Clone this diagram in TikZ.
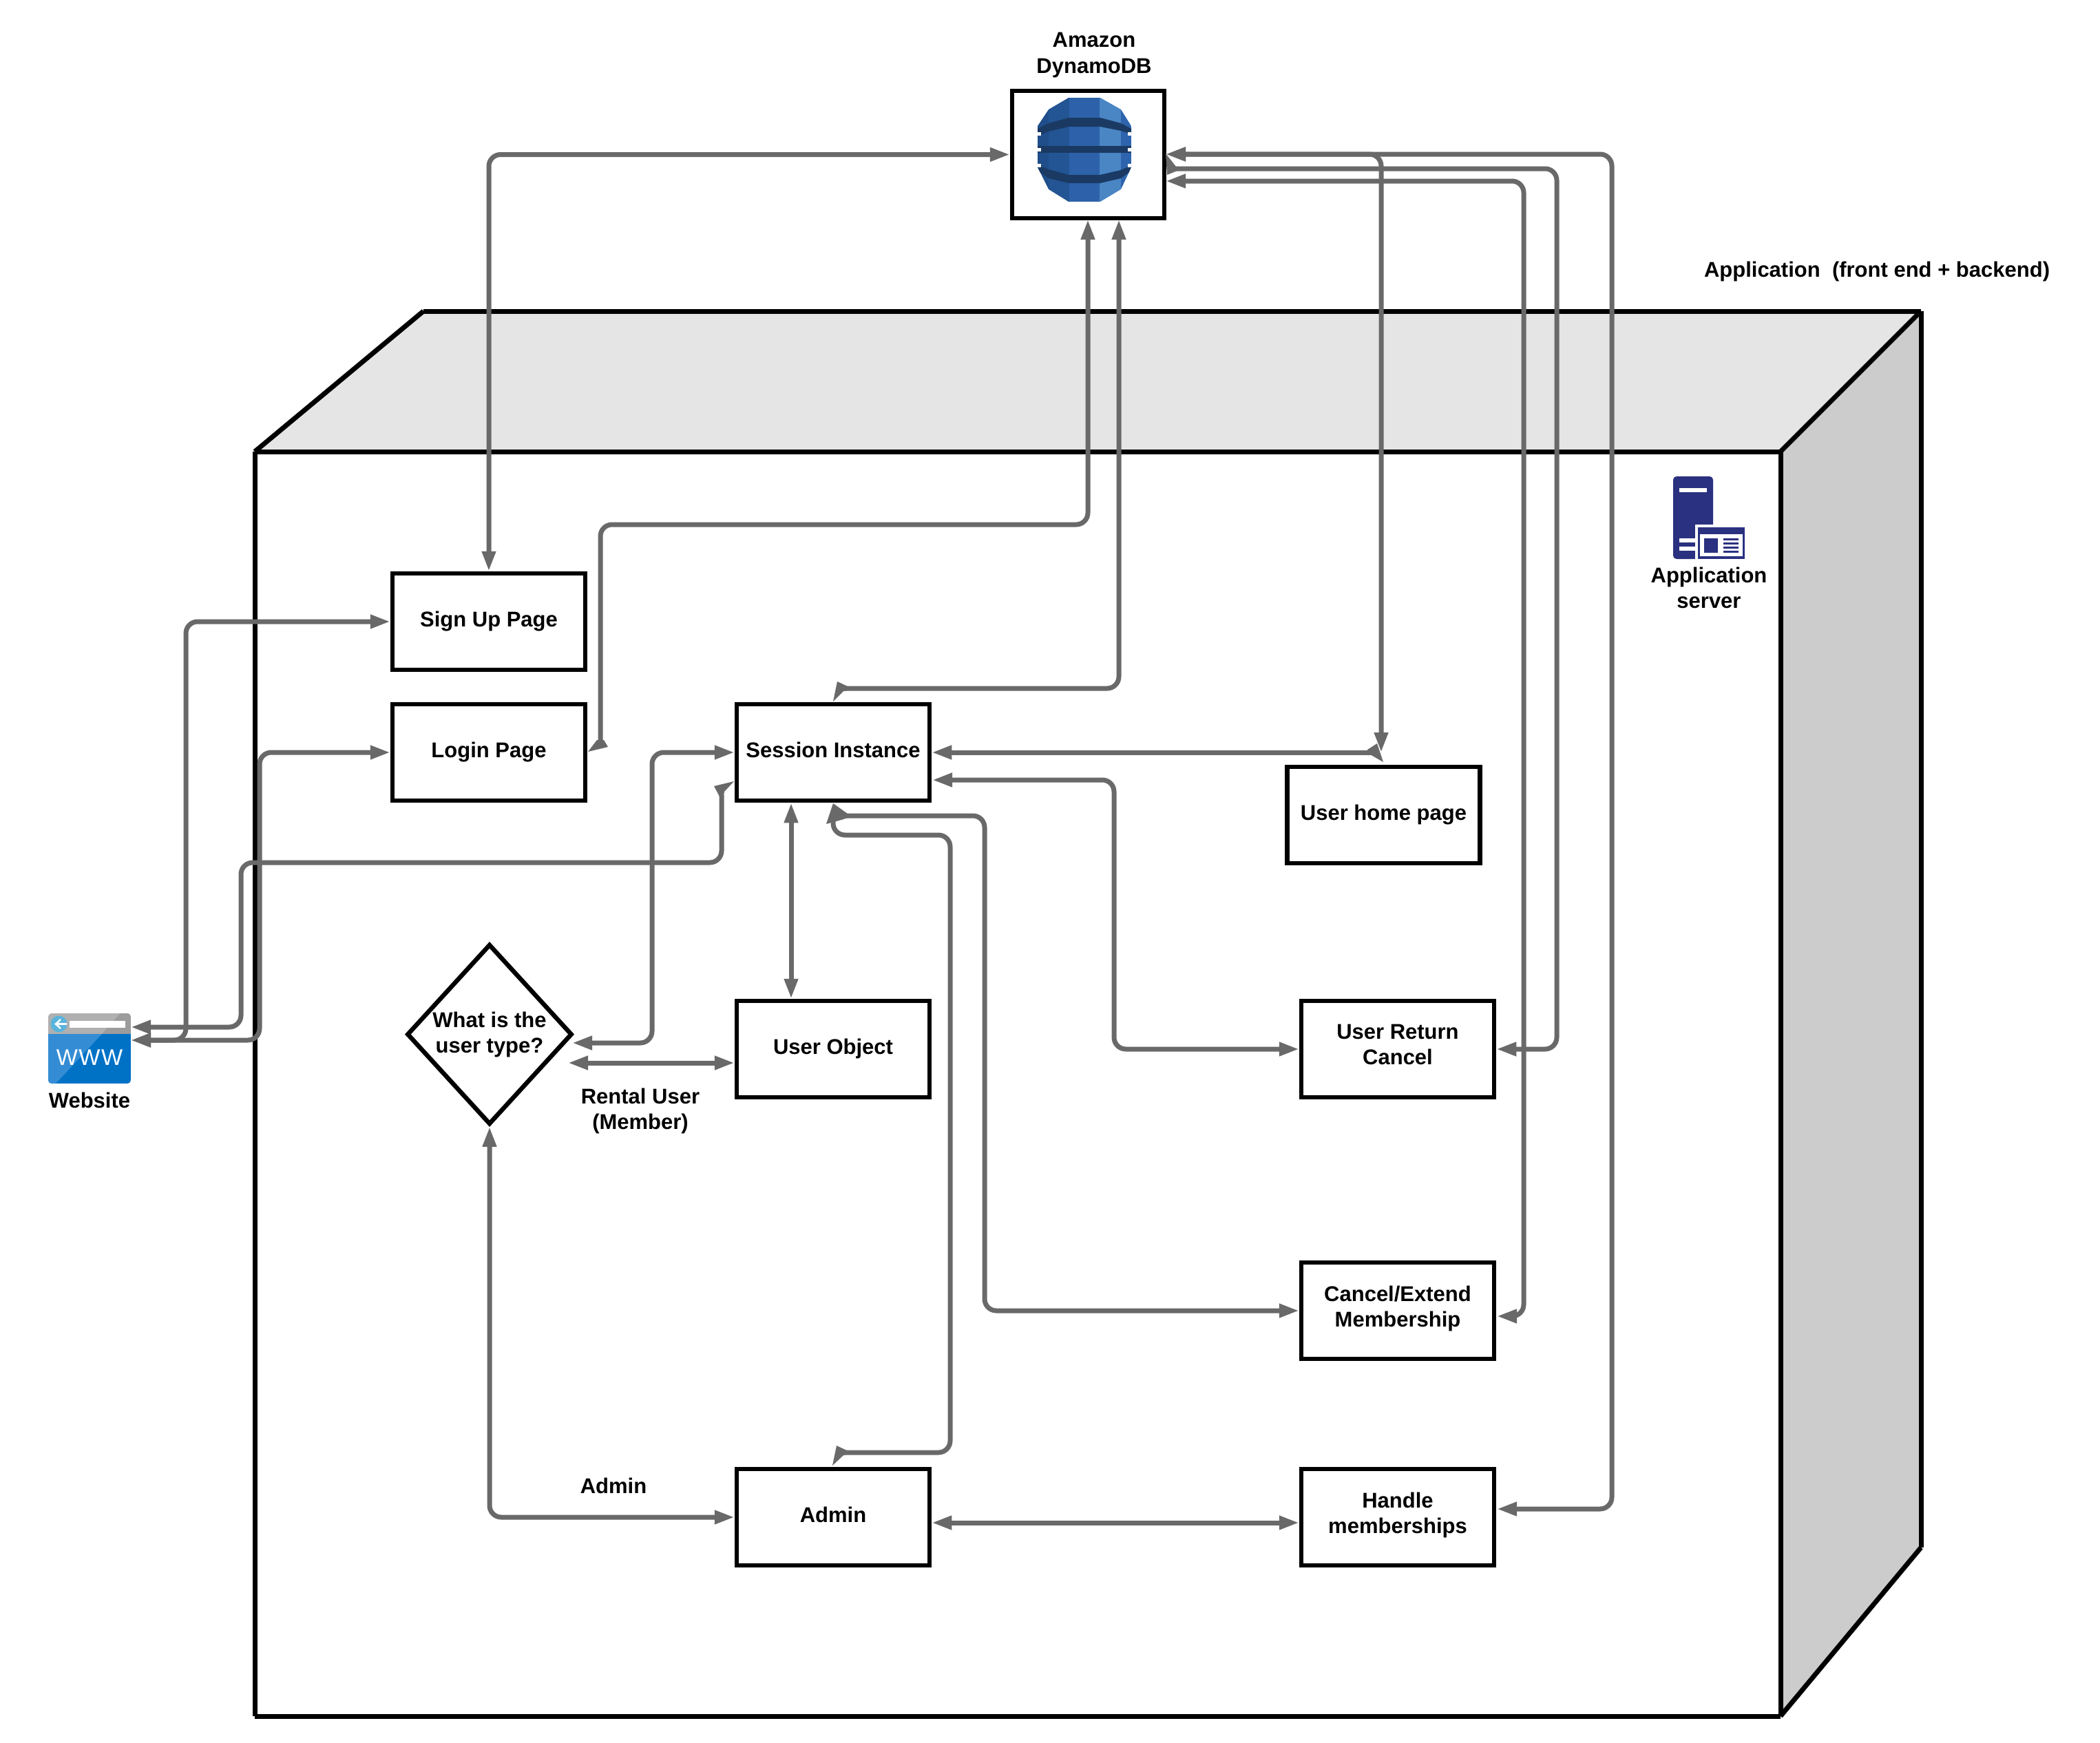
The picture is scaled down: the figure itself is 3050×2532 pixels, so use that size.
\documentclass[tikz,border=0pt]{standalone}
\usepackage{fontspec}
\setmainfont{Liberation Sans}
\usetikzlibrary{arrows.meta,shapes.geometric,calc}
\definecolor{conncol}{HTML}{696969}
\definecolor{srvblue}{HTML}{2A3180}
\tikzset{
  proc/.style={draw=black,line width=6.5pt,fill=white,minimum width=280pt,minimum height=140pt,inner sep=0pt,align=center,text depth=7pt,font=\fontsize{31}{37}\selectfont\bfseries},
  proctwo/.style={proc,text depth=13pt},
  decis/.style={draw=black,line width=6.5pt,fill=white,diamond,minimum width=240pt,minimum height=262pt,inner sep=0pt},
  lbl/.style={inner sep=0pt,align=center,font=\fontsize{31}{37.5}\selectfont\bfseries},
  nodetxt/.style={inner sep=0pt,align=center,font=\fontsize{31}{37}\selectfont\bfseries},
  conn/.style={draw=conncol,line width=7pt,rounded corners=17pt,>={Triangle[length=29pt,width=19pt]}},
  tipfill/.style={fill=conncol,draw=none},
  boxedge/.style={line width=7pt,draw=black,line cap=square}
}
\begin{document}
\begin{tikzpicture}[x=1pt,y=-1pt]
\useasboundingbox[fill=white] (0,0) rectangle (3050,2532);
% server cuboid
\fill[fill=white] (370,656) rectangle (2586,2493);
\fill[fill=black!10] (370,656) -- (615,452) -- (2790,452) -- (2586,656) -- cycle;
\fill[fill=black!20] (2586,656) -- (2790,452) -- (2790,2248) -- (2586,2493) -- cycle;
\draw[boxedge] (370,656) -- (615,452);
\draw[boxedge] (615,452) -- (2790,452);
\draw[boxedge] (2790,452) -- (2586,656);
\draw[boxedge] (370,656) -- (2586,656);
\draw[boxedge] (2790,452) -- (2790,2248);
\draw[boxedge] (2790,2248) -- (2586,2493);
\draw[boxedge] (2586,656) -- (2586,2493);
\draw[boxedge] (370,656) -- (370,2493);
\draw[boxedge] (370,2493) -- (2586,2493);
% nodes
\node[proc,minimum width=221pt,minimum height=185pt] (dynamo) at (1580.5,224.5) {};
\node[proc] (signup) at (710,903) {Sign Up Page};
\node[proc] (login) at (710,1093) {Login Page};
\node[proc] (session) at (1210,1093) {Session Instance};
\node[proc] (userhome) at (2009.5,1184) {User home page};
\node[proc] (userobj) at (1210,1524) {User Object};
\node[proctwo] (uret) at (2030,1524) {User Return\\Cancel};
\node[proctwo] (cancel) at (2030,1904) {Cancel/Extend\\Membership};
\node[proctwo] (handle) at (2030,2204) {Handle\\memberships};
\node[proc] (admin) at (1210,2204) {Admin};
\node[decis] (dtype) at (711,1502.5) {};
\node[nodetxt] (dtypetxt) at (711,1503) {What is the\\user type?};
% labels
\node[lbl] (lbldb) at (1589,80) {Amazon\\DynamoDB};
\node[lbl] (lblapp) at (2726,394) {Application\ \ (front end + backend)};
\node[lbl] (lblsrv) at (2482,854) {Application\\server};
\node[lbl] (lblrent) at (930,1614) {Rental User\\(Member)};
\node[lbl] (lbladm) at (891,2158) {Admin};
\node[lbl] (lblweb) at (130,1598) {Website};
% DynamoDB icon
\begin{scope}
\clip (1552,142) -- (1598,142) -- (1628,159) -- (1643,183) -- (1643,243) -- (1628,275) -- (1598,293) -- (1552,293) -- (1523,275) -- (1507,243) -- (1507,183) -- (1523,159) -- cycle;
\fill[fill={rgb,255:red,31;green,78;blue,138}] (1507,142) rectangle (1523,293);
\fill[fill={rgb,255:red,35;green,85;blue,148}] (1523,142) rectangle (1553,293);
\fill[fill={rgb,255:red,45;green,98;blue,170}] (1553,142) rectangle (1597,293);
\fill[fill={rgb,255:red,74;green,133;blue,196}] (1597,142) rectangle (1628,293);
\fill[fill={rgb,255:red,46;green,100;blue,173}] (1628,142) rectangle (1643,293);
\fill[fill={rgb,255:red,26;green,58;blue,100}] (1507,187) -- (1523,179) -- (1552,171) -- (1598,171) -- (1628,179) -- (1643,187) -- (1643,195) -- (1628,190) -- (1598,184) -- (1552,184) -- (1523,191) -- (1507,197) -- cycle;
\fill[fill={rgb,255:red,26;green,58;blue,100}] (1507,212) rectangle (1643,222);
\fill[fill={rgb,255:red,26;green,58;blue,100}] (1507,240) -- (1523,246) -- (1552,254) -- (1598,254) -- (1628,247) -- (1643,240) -- (1643,248) -- (1628,259) -- (1598,266) -- (1552,266) -- (1523,259) -- (1507,248) -- cycle;
\fill[fill=white] (1507,192) rectangle (1512,197);
\fill[fill=white] (1638,192) rectangle (1643,197);
\fill[fill=white] (1507,215) rectangle (1512,220);
\fill[fill=white] (1638,215) rectangle (1643,220);
\fill[fill=white] (1507,238) rectangle (1512,243);
\fill[fill=white] (1638,238) rectangle (1643,243);
\end{scope}
% Website icon
\begin{scope}
\clip[rounded corners=5pt] (70,1472) rectangle (190,1574);
\fill[fill={rgb,255:red,176;green,176;blue,176}] (70,1472) rectangle (190,1502);
\fill[fill={rgb,255:red,156;green,156;blue,156}] (175,1472) -- (190,1472) -- (190,1502) -- (148,1502) -- cycle;
\fill[fill={rgb,255:red,0;green,114;blue,198}] (70,1502) rectangle (190,1574);
\fill[fill={rgb,255:red,52;green,141;blue,212}] (70,1502) -- (148,1502) -- (81,1574) -- (70,1574) -- cycle;
\end{scope}
\fill[fill=white] (101,1483) rectangle (182,1493);
\fill[fill={rgb,255:red,90;green,180;blue,220}] (85.5,1487.5) circle (12);
\draw[white,line width=2.5pt] (97,1487.5) -- (82,1487.5);
\draw[white,line width=2.5pt] (88,1481) -- (81,1487.5) -- (88,1494);
\node[inner sep=0pt,text=white,font=\fontsize{33}{33}\selectfont] (wwwtxt) at (130,1536) {W\kern1.5pt W\kern1.5pt W};
% Application server icon
\fill[fill=srvblue,rounded corners=5pt] (2430,812) -- (2430,692) -- (2488,692) -- (2488,812) -- cycle;
\fill[fill=white] (2462,762) rectangle (2495,815);
\fill[fill=white] (2439,709) rectangle (2479,715);
\fill[fill=white] (2439,782) rectangle (2462,788);
\fill[fill=white] (2439,794) rectangle (2462,800);
\fill[fill=srvblue] (2466,766) rectangle (2534,812);
\fill[fill=white] (2469,776) rectangle (2531,808);
\fill[fill=srvblue] (2475,782) rectangle (2495,803);
\fill[fill=srvblue] (2503,782) rectangle (2525,785);
\fill[fill=srvblue] (2503,788) rectangle (2525,791);
\fill[fill=srvblue] (2503,794) rectangle (2525,797);
\fill[fill=srvblue] (2503,800) rectangle (2525,803);
% free ends
\coordinate (webU) at (190,1492);
\coordinate (webL) at (190,1511);
\coordinate (dbB1) at (1580,319);
\coordinate (dbB2) at (1625,319);
\coordinate (dbR1) at (1693,224);
\coordinate (dbR2) at (1705,245);
\coordinate (dbR3) at (1693,263);
\coordinate (uhTop) at (2006,1093);
\coordinate (uhSide) at (1992,1093);
\coordinate (hE) at (2174,2192);
\coordinate (cE) at (2174,1912);
\coordinate (sE2) at (1354,1133);
\coordinate (loginEnd) at (872,1078);
\coordinate (sessTop) at (1226,1000);
\coordinate (sessBot) at (1226,1185);
\coordinate (sessBot2) at (1210,1190);
\coordinate (adminTop) at (1226,2110);
\coordinate (sessLeft) at (1048,1155);
\coordinate (dR1) at (831,1515);
\coordinate (dR2) at (825,1544);
\coordinate (uoX) at (1149,0);
\coordinate (ahY) at (0,2212);
% connectors
\draw[conn,<->] (signup.north) |- (dynamo.west);
\draw[conn,<->] (signup.west) -| (270,1511) -- (webL);
\draw[conn,<->] (login.west) -| (377,1511) -- (webL);
\draw[conn,<-] (webU) -- (350,1492) -- (350,1253) -- (1048,1253) -- (sessLeft);
\draw[conn,<-] (dbB1) -- (1580,762) -- (872,762) -- (loginEnd);
\draw[conn,<-] (dbB2) -- (1625,1000) -- (sessTop);
\draw[conn,<->] (dbR1) -| (uhTop);
\draw[conn,<->] (dbR1) -- (2341,224) -- (2341,2192) -- (hE);
\draw[conn,->] (dbR2) -- (2261,245) -- (2261,1524) -- (uret.east);
\draw[conn,<->] (dbR3) -- (2213,263) -- (2213,1912) -- (cE);
\draw[conn,<-] (session.east) -- (uhSide);
\draw[conn,<->] (sE2) -- (1618,1133) -- (1618,1524) -- (uret.west);
\draw[conn,->] (sessBot) -- (1430,1185) -- (1430,1904) -- (cancel.west);
\draw[conn] (sessBot2) -- (1210,1213) -- (1380,1213) -- (1380,2110) -- (adminTop);
\draw[conn,<->] (session.south -| uoX) -- (userobj.north -| uoX);
\draw[conn,<->] (dR1) -- (947,1515) -- (947,1093) -- (session.west);
\draw[conn,<->] (dR2) -- (userobj.west |- dR2);
\draw[conn,<->] (dtype.south) |- (admin.west);
\draw[conn,<->] (admin.east |- ahY) -- (handle.west |- ahY);
% slanted arrowheads
\fill[tipfill] (854,1092) -- (867,1075) -- (877,1075) -- (883,1085) -- cycle;
\fill[tipfill] (2009,1107) -- (2000,1080) -- (1986,1089) -- (1986,1096) -- (1990,1096) -- cycle;
\fill[tipfill] (1693,223) -- (1708,242) -- (1710,248) -- (1695,254) -- cycle;
\fill[tipfill] (1210,1019) -- (1216,990) -- (1231,997) -- (1231,1003) -- (1225,1004) -- cycle;
\fill[tipfill] (1210,1167) -- (1231,1182) -- (1231,1188) -- (1222,1191) -- (1200,1197) -- cycle;
\fill[tipfill] (1209,2129) -- (1215,2100) -- (1230,2107) -- (1230,2113) -- (1225,2114) -- cycle;
\fill[tipfill] (1066,1135) -- (1037,1142) -- (1045,1157) -- (1051,1157) -- (1052,1150) -- cycle;
\end{tikzpicture}
\end{document}
